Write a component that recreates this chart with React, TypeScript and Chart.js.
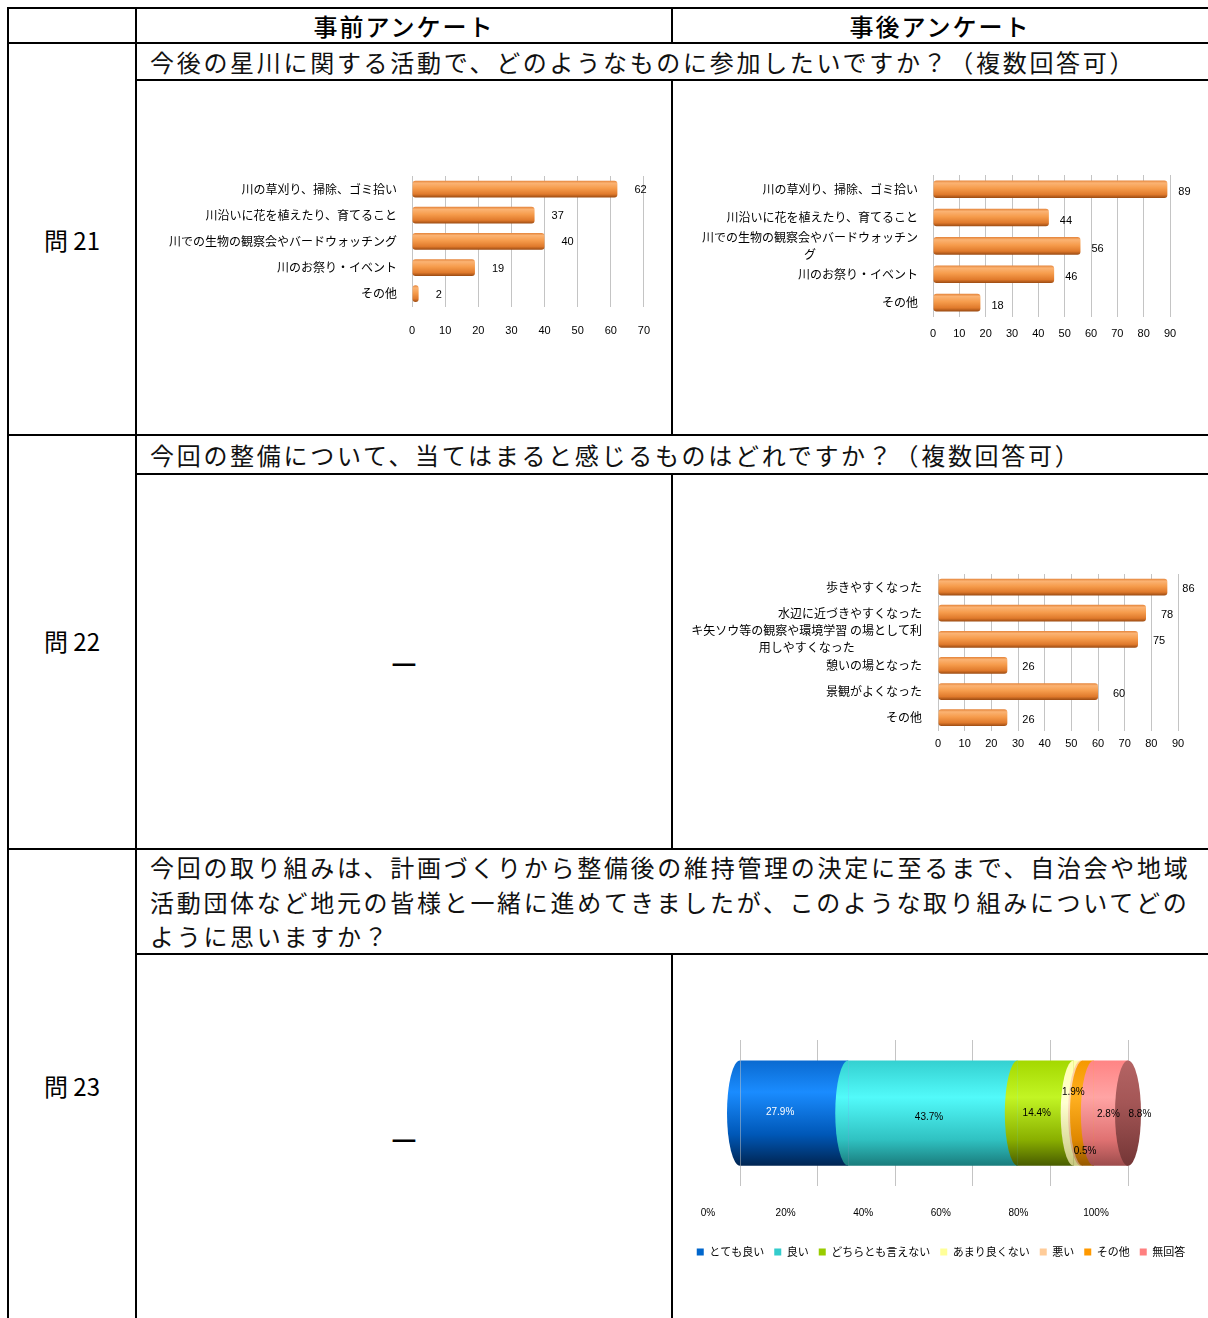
import React, { useEffect, useRef } from "react";
import { Chart, registerables } from "chart.js";

Chart.register(...registerables);

// ---------- data ----------
const q21PreCategories: (string | string[])[] = [
  "川の草刈り、掃除、ゴミ拾い",
  "川沿いに花を植えたり、育てること",
  "川での生物の観察会やバードウォッチング",
  "川のお祭り・イベント",
  "その他",
];
const q21PreValues = [62, 37, 40, 19, 2];

const q21PostCategories: (string | string[])[] = [
  "川の草刈り、掃除、ゴミ拾い",
  "川沿いに花を植えたり、育てること",
  ["川での生物の観察会やバードウォッチン", "グ"],
  "川のお祭り・イベント",
  "その他",
];
const q21PostValues = [89, 44, 56, 46, 18];

const q22Categories: (string | string[])[] = [
  "歩きやすくなった",
  "水辺に近づきやすくなった",
  ["キ矢ソウ等の観察や環境学習 の場として利", "用しやすくなった"],
  "憩いの場となった",
  "景観がよくなった",
  "その他",
];
const q22Values = [86, 78, 75, 26, 60, 26];

const q23Series = ["とても良い", "良い", "どちらとも言えない", "あまり良くない", "悪い", "その他", "無回答"];
const q23Values = [27.9, 43.7, 14.4, 1.9, 0.5, 2.8, 8.8];
const q23Ticks = [0, 20, 40, 60, 80, 100];

// ---------- styles ----------
const FONT_JP = '"Noto Sans CJK JP", "Noto Sans JP", sans-serif';
const FONT_NUM = '"Liberation Sans", Arial, sans-serif';

const q23LegendColors = ["#0066CC", "#33CCCC", "#99CC00", "#FFFF99", "#FFCC99", "#FF9900", "#FF8080"];
const q23GradStops: [number, string][][] = [
  [[0, "#0a6ad0"], [0.3, "#1a8cff"], [0.7, "#0058b8"], [1, "#002552"]],
  [[0, "#34d0d0"], [0.35, "#52fafa"], [0.75, "#30c2c2"], [1, "#1a7c7c"]],
  [[0, "#a4d800"], [0.35, "#c2f524"], [0.75, "#8ab000"], [1, "#485c00"]],
  [[0, "#ffffb0"], [0.4, "#ffffd0"], [1, "#c8c880"]],
  [[0, "#ffcc99"], [0.4, "#ffe0c0"], [1, "#c09060"]],
  [[0, "#f59800"], [0.35, "#ffb020"], [0.75, "#e08800"], [1, "#955800"]],
  [[0, "#ff8484"], [0.35, "#ffa4a4"], [0.75, "#e07272"], [1, "#9c4c4c"]],
];
const q23CapStops: [number, string][] = [[0, "#b46464"], [0.4, "#a45656"], [1, "#743636"]];
const q23LabelDx = [-14, -4, -9, -4, 3, 20, 29];
const q23LabelDy = [-1, 4, 0, -21, 38, 1, 1];
const q23LabelColor = ["#ffffff", "#000", "#000", "#000", "#000", "#000", "#000"];

const orangeStops: [number, string][] = [
  [0, "#e4843a"],
  [0.15, "#fbb373"],
  [0.45, "#f69c4c"],
  [0.8, "#e07a2c"],
  [1, "#9a4a12"],
];

// ---------- bar chart ----------
const barDecorPlugin = {
  id: "barDecor",
  afterDatasetsDraw(chart: any, _args: any, opts: any) {
    const { ctx, chartArea, scales } = chart;
    const ys = scales.y;
    ctx.save();
    ctx.fillStyle = "#000";
    ctx.textBaseline = "middle";
    ctx.textAlign = "center";
    ctx.font = `12px ${FONT_JP}`;
    (chart.data.labels as any[]).forEach((lab, i) => {
      const lines: string[] = Array.isArray(lab) ? lab : [lab];
      const w = Math.max(...lines.map((l) => ctx.measureText(l).width));
      const cx = chartArea.left - opts.labelGap - w / 2;
      const yc = ys.getPixelForValue(i) + (opts.labelDy || 0);
      lines.forEach((l, j) => {
        ctx.fillText(l, cx, yc + (j - (lines.length - 1) / 2) * opts.lineHeight);
      });
    });
    ctx.font = `11px ${FONT_NUM}`;
    ctx.textAlign = "left";
    const meta = chart.getDatasetMeta(0);
    meta.data.forEach((el: any, i: number) => {
      ctx.fillText(String(chart.data.datasets[0].data[i]), el.x + opts.valueDx, el.y + opts.valueDy);
    });
    ctx.restore();
  },
};

type Box = { left: number; top: number; width: number; height: number };
type Pad = { left: number; right: number; top: number; bottom: number };

function BarChart(props: {
  labels: (string | string[])[];
  values: number[];
  max: number;
  box: Box;
  pad: Pad;
  tickPad: number;
  labelGap: number;
  valueDx: number;
  valueDy: number;
  barPct: number;
}) {
  const ref = useRef<HTMLCanvasElement>(null);
  useEffect(() => {
    if (!ref.current) return;
    const n = props.values.length;
    const chart = new Chart(ref.current, {
      type: "bar",
      data: {
        labels: props.labels as any,
        datasets: [
          {
            data: props.values,
            backgroundColor: (c: any) => {
              const ch = c.chart;
              const area = ch.chartArea;
              const ys = ch.scales && ch.scales.y;
              if (!area || !ys || c.dataIndex === undefined) return "#f0903c";
              const yc = ys.getPixelForValue(c.dataIndex);
              const h = (area.height / n) * props.barPct;
              const g = ch.ctx.createLinearGradient(0, yc - h / 2, 0, yc + h / 2);
              orangeStops.forEach(([o, col]) => g.addColorStop(o, col));
              return g;
            },
            borderWidth: 0,
            borderRadius: 3,
            borderSkipped: false,
            barPercentage: props.barPct,
            categoryPercentage: 1,
          },
        ],
      },
      options: {
        indexAxis: "y",
        responsive: false,
        animation: false,
        events: [],
        layout: { padding: props.pad },
        scales: {
          y: { type: "category", display: false },
          x: {
            min: 0,
            max: props.max,
            ticks: { stepSize: 10, padding: props.tickPad, color: "#000", font: { size: 11, family: FONT_NUM } },
            grid: { color: "#c4c4c4", drawTicks: false },
            border: { display: false },
          },
        },
        plugins: {
          legend: { display: false },
          tooltip: { enabled: false },
          barDecor: {
            labelGap: props.labelGap,
            lineHeight: 17,
            valueDx: props.valueDx,
            valueDy: props.valueDy,
          },
        } as any,
      },
      plugins: [barDecorPlugin],
    });
    return () => chart.destroy();
  }, []);
  const b = props.box;
  return (
    <canvas
      ref={ref}
      width={b.width}
      height={b.height}
      style={{ position: "absolute", left: b.left, top: b.top, width: b.width, height: b.height }}
    />
  );
}

// ---------- cylinder chart ----------
function makeGrad(ctx: CanvasRenderingContext2D, y0: number, y1: number, stops: [number, string][]) {
  const g = ctx.createLinearGradient(0, y0, 0, y1);
  stops.forEach(([o, c]) => g.addColorStop(o, c));
  return g;
}

const Q23_BAR_PCT = 0.72;

const cylinderPlugin = {
  id: "cylinder",
  afterDatasetsDraw(chart: any) {
    const { ctx, chartArea, scales } = chart;
    const xs = scales.x;
    const ys = scales.y;
    const yc = ys.getPixelForValue(0);
    const h = chartArea.height * Q23_BAR_PCT;
    const ry = h / 2;
    const rx = 13;
    ctx.save();
    let cum = 0;
    const centers: number[] = [];
    chart.data.datasets.forEach((ds: any, i: number) => {
      const v = ds.data[0];
      const xStart = xs.getPixelForValue(cum);
      ctx.fillStyle = makeGrad(ctx, yc - ry, yc + ry, q23GradStops[i]);
      ctx.beginPath();
      ctx.ellipse(xStart, yc, rx, ry, 0, Math.PI / 2, (Math.PI * 3) / 2);
      ctx.closePath();
      ctx.fill();
      centers.push(xs.getPixelForValue(cum + v / 2));
      cum += v;
    });
    const xEnd = xs.getPixelForValue(cum);
    ctx.fillStyle = makeGrad(ctx, yc - ry, yc + ry, q23CapStops);
    ctx.beginPath();
    ctx.ellipse(xEnd, yc, rx, ry, 0, 0, Math.PI * 2);
    ctx.fill();
    // labels
    ctx.font = `10px ${FONT_NUM}`;
    ctx.textAlign = "center";
    ctx.textBaseline = "middle";
    chart.data.datasets.forEach((ds: any, i: number) => {
      ctx.fillStyle = q23LabelColor[i];
      ctx.fillText(ds.data[0].toFixed(1) + "%", centers[i] + q23LabelDx[i], yc + q23LabelDy[i]);
    });
    ctx.restore();
  },
};

function CylinderChart(props: { box: Box }) {
  const ref = useRef<HTMLCanvasElement>(null);
  useEffect(() => {
    if (!ref.current) return;
    const chart = new Chart(ref.current, {
      type: "bar",
      data: {
        labels: ["事後"],
        datasets: q23Series.map((name, i) => ({
          label: name,
          data: [q23Values[i]],
          backgroundColor: (c: any) => {
            const ch = c.chart;
            const area = ch.chartArea;
            const ys = ch.scales && ch.scales.y;
            if (!area || !ys) return q23LegendColors[i];
            const yc = ys.getPixelForValue(0);
            const h = area.height * Q23_BAR_PCT;
            return makeGrad(ch.ctx, yc - h / 2, yc + h / 2, q23GradStops[i]);
          },
          borderWidth: 0,
          barPercentage: Q23_BAR_PCT,
          categoryPercentage: 1,
        })),
      },
      options: {
        indexAxis: "y",
        responsive: false,
        animation: false,
        events: [],
        layout: { padding: { left: 0, right: 0, top: 20, bottom: 12.5 } },
        scales: {
          y: {
            type: "category",
            display: true,
            stacked: true,
            ticks: { display: false },
            grid: { display: false },
            border: { display: false },
            afterFit: (scale: any) => {
              scale.width = 64;
            },
          },
          yR: {
            type: "linear",
            position: "right",
            display: true,
            ticks: { display: false },
            grid: { display: false },
            border: { display: false },
            afterFit: (scale: any) => {
              scale.width = 78;
            },
          },
          x: {
            stacked: true,
            min: 0,
            max: 100,
            afterBuildTicks: (scale: any) => {
              scale.ticks = q23Ticks.map((v) => ({ value: v }));
            },
            afterFit: (scale: any) => {
              scale.height -= 3.7;
            },
            ticks: {
              padding: 21,
              labelOffset: -32,
              color: "#000",
              font: { size: 10, family: FONT_NUM },
              callback: (v: any) => v + "%",
            },
            grid: { color: "#c4c4c4", drawTicks: false },
            border: { display: false },
          },
        } as any,
        plugins: {
          tooltip: { enabled: false },
          legend: {
            position: "bottom",
            labels: {
              boxWidth: 7,
              boxHeight: 7,
              padding: 10,
              color: "#000",
              font: { size: 11, family: FONT_JP },
              generateLabels: () =>
                q23Series.map((t, i) => ({
                  text: t,
                  fillStyle: q23LegendColors[i],
                  strokeStyle: q23LegendColors[i],
                  lineWidth: 0,
                  hidden: false,
                  datasetIndex: i,
                  fontColor: "#000",
                })),
            },
          },
        } as any,
      },
      plugins: [cylinderPlugin],
    });
    return () => chart.destroy();
  }, []);
  const b = props.box;
  return (
    <canvas
      ref={ref}
      width={b.width}
      height={b.height}
      style={{ position: "absolute", left: b.left, top: b.top, width: b.width, height: b.height }}
    />
  );
}

// ---------- table ----------
const hLines = [
  { x: 8, y: 8, w: 1200 },
  { x: 8, y: 43, w: 1200 },
  { x: 136, y: 80, w: 1072 },
  { x: 8, y: 435, w: 1200 },
  { x: 136, y: 474, w: 1072 },
  { x: 8, y: 849, w: 1200 },
  { x: 136, y: 954, w: 1072 },
];
const vLines = [
  { x: 8, y: 8, h: 1310 },
  { x: 136, y: 8, h: 1310 },
  { x: 672, y: 8, h: 35 },
  { x: 672, y: 80, h: 355 },
  { x: 672, y: 474, h: 375 },
  { x: 672, y: 954, h: 364 },
];

const q21Question = "今後の星川に関する活動で、どのようなものに参加したいですか？（複数回答可）";
const q22Question = "今回の整備について、当てはまると感じるものはどれですか？（複数回答可）";
const q23QuestionLines = [
  "今回の取り組みは、計画づくりから整備後の維持管理の決定に至るまで、自治会や地域",
  "活動団体など地元の皆様と一緒に進めてきましたが、このような取り組みについてどの",
  "ように思いますか？",
];

const qStyle: React.CSSProperties = {
  position: "absolute",
  left: 150,
  fontFamily: FONT_JP,
  fontSize: 24,
  letterSpacing: 2.7,
  lineHeight: "34.5px",
  whiteSpace: "nowrap",
  color: "#111",
};

const centerText = (
  left: number,
  width: number,
  top: number,
  text: string,
  size: number,
  ls = 0,
  weight = 400
): React.ReactNode => (
  <div
    style={{
      position: "absolute",
      left,
      width,
      top,
      height: 34,
      lineHeight: "34px",
      textAlign: "center",
      fontFamily: FONT_JP,
      fontSize: size,
      fontWeight: weight,
      letterSpacing: ls,
      whiteSpace: "nowrap",
      color: "#000",
    }}
  >
    {text}
  </div>
);

export default function App() {
  return (
    <div
      style={{
        position: "fixed",
        left: 0,
        top: 0,
        width: 1208,
        height: 1318,
        overflow: "hidden",
        background: "#fff",
      }}
    >
      {hLines.map((l, i) => (
        <div key={"h" + i} style={{ position: "absolute", left: l.x - 1, top: l.y - 1, width: l.w + 1, height: 2, background: "#000" }} />
      ))}
      {vLines.map((l, i) => (
        <div key={"v" + i} style={{ position: "absolute", left: l.x - 1, top: l.y - 1, width: 2, height: l.h + 1, background: "#000" }} />
      ))}

      {centerText(136, 536, 9, "事前アンケート", 24, 2, 500)}
      {centerText(672, 536, 9, "事後アンケート", 24, 2, 500)}

      <div style={{ ...qStyle, top: 45 }}>{q21Question}</div>
      <div style={{ ...qStyle, top: 438 }}>{q22Question}</div>
      <div style={{ ...qStyle, top: 850 }}>
        {q23QuestionLines.map((l, i) => (
          <div key={i}>{l}</div>
        ))}
      </div>

      {centerText(8, 128, 223, "問 21", 24)}
      {centerText(8, 128, 624, "問 22", 24)}
      {centerText(8, 128, 1069, "問 23", 24)}

      {centerText(136, 536, 644, "—", 28, 0, 700)}
      {centerText(136, 536, 1120, "—", 28, 0, 700)}

      <BarChart
        labels={q21PreCategories}
        values={q21PreValues}
        max={70}
        box={{ left: 140, top: 165, width: 528, height: 191 }}
        pad={{ left: 272, right: 23, top: 11, bottom: 0 }}
        tickPad={18}
        labelGap={15}
        valueDx={17}
        valueDy={1}
        barPct={0.64}
      />
      <BarChart
        labels={q21PostCategories}
        values={q21PostValues}
        max={90}
        box={{ left: 676, top: 165, width: 530, height: 187 }}
        pad={{ left: 257, right: 36, top: 10, bottom: 0 }}
        tickPad={11}
        labelGap={15}
        valueDx={11}
        valueDy={3}
        barPct={0.62}
      />
      <BarChart
        labels={q22Categories}
        values={q22Values}
        max={90}
        box={{ left: 676, top: 560, width: 530, height: 198 }}
        pad={{ left: 262, right: 28, top: 14, bottom: 0 }}
        tickPad={7}
        labelGap={16}
        valueDx={15}
        valueDy={2}
        barPct={0.64}
      />
      <CylinderChart box={{ left: 676, top: 1020, width: 530, height: 260 }} />
    </div>
  );
}
